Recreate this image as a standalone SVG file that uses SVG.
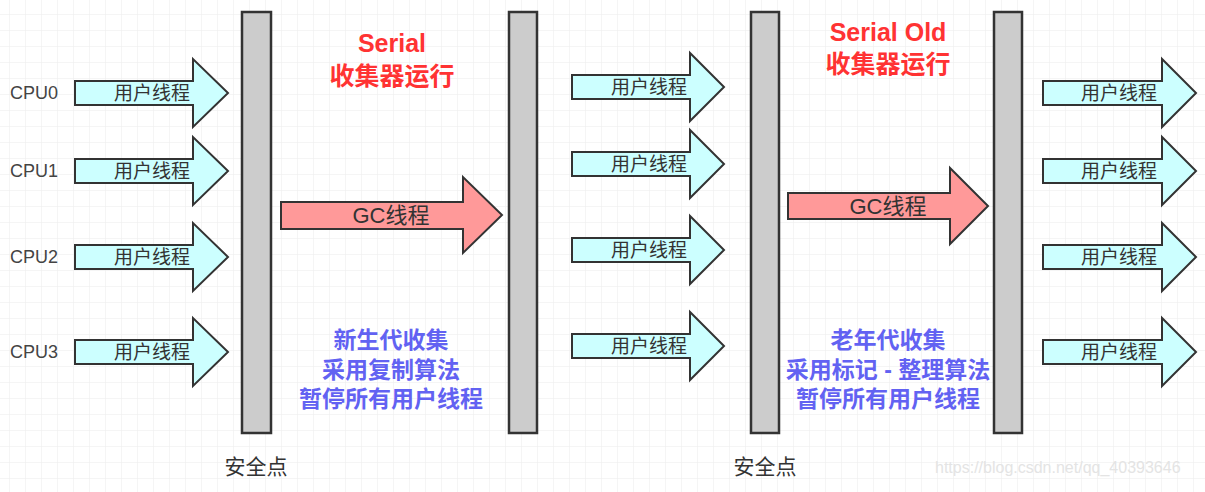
<svg xmlns="http://www.w3.org/2000/svg" width="1205" height="492" viewBox="0 0 1205 492">
<defs>
<pattern id="grid" x="9" y="14" width="16" height="16" patternUnits="userSpaceOnUse">
<path d="M0 0 H16 M0 0 V16" fill="none" stroke="#ececec" stroke-width="1"/>
</pattern>
<style>
.bar{fill:#cccccc;stroke:#333333;stroke-width:2.5}
.ua{fill:#ccffff;stroke:#333333;stroke-width:2;stroke-linejoin:miter}
.ga{fill:#ff9999;stroke:#333333;stroke-width:2;stroke-linejoin:miter}
.t{font-family:"Liberation Sans","Noto Sans CJK SC",sans-serif;fill:#333333}
.ut{font-size:19px;text-anchor:middle}
.gt{font-size:22px;text-anchor:middle}
.cpu{font-size:18px;fill:#444444}
.red{font-family:"Liberation Sans","Noto Sans CJK SC",sans-serif;font-weight:bold;font-size:25px;fill:#ff3333;text-anchor:middle}
.blue{font-family:"Liberation Sans","Noto Sans CJK SC",sans-serif;font-weight:bold;font-size:23px;fill:#6262f2;text-anchor:middle}
.safe{font-size:21px;text-anchor:middle}
.wm{font-family:"Liberation Sans",sans-serif;font-size:16px;fill:#e4e4e4}
</style>
</defs>
<rect width="1205" height="492" fill="#ffffff"/>
<rect width="1205" height="492" fill="url(#grid)"/>

<g id="bars">
<rect id="bar1" class="bar" x="242" y="12" width="29" height="421"/>
<rect id="bar2" class="bar" x="509" y="12" width="28" height="421"/>
<rect id="bar3" class="bar" x="751" y="12" width="28" height="421"/>
<rect id="bar4" class="bar" x="994" y="12" width="28" height="421"/>
</g>

<g id="cpu-labels" class="t cpu">
<text id="cpu0" x="10" y="99">CPU0</text>
<text id="cpu1" x="10" y="177">CPU1</text>
<text id="cpu2" x="10" y="263">CPU2</text>
<text id="cpu3" x="10" y="358">CPU3</text>
</g>

<g id="connectors">
<g id="u-left-0"><path class="ua" d="M75 81 H193 V59 L228 93 L193 127 V105 H75 Z"/><text class="t ut" x="152" y="100">用户线程</text></g>
<g id="u-left-1"><path class="ua" d="M75 159 H193 V137 L228 171 L193 205 V183 H75 Z"/><text class="t ut" x="152" y="178">用户线程</text></g>
<g id="u-left-2"><path class="ua" d="M75 245 H193 V223 L228 257 L193 291 V269 H75 Z"/><text class="t ut" x="152" y="264">用户线程</text></g>
<g id="u-left-3"><path class="ua" d="M75 340 H193 V318 L228 352 L193 386 V364 H75 Z"/><text class="t ut" x="152" y="359">用户线程</text></g>

<g id="u-mid-0"><path class="ua" d="M572 75 H690 V53 L724 87 L690 121 V99 H572 Z"/><text class="t ut" x="649" y="94">用户线程</text></g>
<g id="u-mid-1"><path class="ua" d="M572 152 H690 V130 L724 164 L690 198 V176 H572 Z"/><text class="t ut" x="649" y="171">用户线程</text></g>
<g id="u-mid-2"><path class="ua" d="M572 238 H690 V216 L724 250 L690 284 V262 H572 Z"/><text class="t ut" x="649" y="257">用户线程</text></g>
<g id="u-mid-3"><path class="ua" d="M572 334 H690 V312 L724 346 L690 380 V358 H572 Z"/><text class="t ut" x="649" y="353">用户线程</text></g>

<g id="u-right-0"><path class="ua" d="M1043 81 H1162 V59 L1196 93 L1162 127 V105 H1043 Z"/><text class="t ut" x="1119" y="100">用户线程</text></g>
<g id="u-right-1"><path class="ua" d="M1043 159 H1162 V137 L1196 171 L1162 205 V183 H1043 Z"/><text class="t ut" x="1119" y="178">用户线程</text></g>
<g id="u-right-2"><path class="ua" d="M1043 245 H1162 V223 L1196 257 L1162 291 V269 H1043 Z"/><text class="t ut" x="1119" y="264">用户线程</text></g>
<g id="u-right-3"><path class="ua" d="M1043 340 H1162 V318 L1196 352 L1162 386 V364 H1043 Z"/><text class="t ut" x="1119" y="359">用户线程</text></g>

<g id="gc-1"><path class="ga" d="M281 202 H463 V177 L502 215 L463 253 V229 H281 Z"/><text class="t gt" x="391" y="223">GC线程</text></g>
<g id="gc-2"><path class="ga" d="M788 193 H950 V168 L988 206 L950 244 V219 H788 Z"/><text class="t gt" x="888" y="214">GC线程</text></g>
</g>

<g id="title-serial">
<text class="red" x="392" y="52">Serial</text>
<text class="red" x="392" y="85">收集器运行</text>
</g>
<g id="title-serial-old">
<text class="red" x="888" y="41">Serial Old</text>
<text class="red" x="888" y="73">收集器运行</text>
</g>

<g id="note-young">
<text class="blue" x="391" y="348">新生代收集</text>
<text class="blue" x="391" y="378">采用复制算法</text>
<text class="blue" x="391" y="407">暂停所有用户线程</text>
</g>
<g id="note-old">
<text class="blue" x="888" y="348">老年代收集</text>
<text class="blue" x="888" y="378">采用标记 - 整理算法</text>
<text class="blue" x="888" y="407">暂停所有用户线程</text>
</g>

<g id="safepoints" class="t safe">
<text x="256" y="474">安全点</text>
<text x="765" y="474">安全点</text>
</g>

<text class="wm" x="935" y="473">https://blog.csdn.net/qq_40393646</text>
</svg>
